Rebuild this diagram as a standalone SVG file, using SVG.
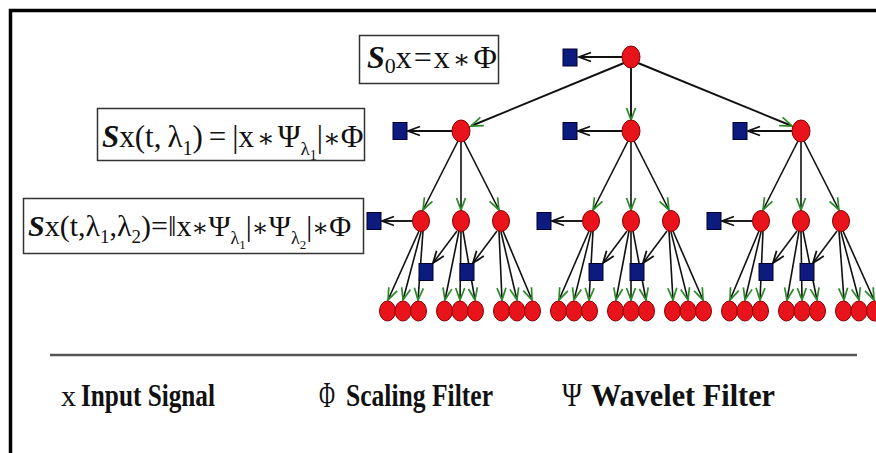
<svg xmlns="http://www.w3.org/2000/svg" width="876" height="453" viewBox="0 0 876 453">
<style>
.f{font-family:"Liberation Serif","DejaVu Serif",serif;fill:#111;}
.S{font-weight:bold;font-style:italic;}
.box{fill:#fff;stroke:#333;stroke-width:1.5;}
.e{stroke:#111;stroke-width:1.9;fill:none;}
.e2{stroke:#111;stroke-width:1.6;fill:none;}
.n{fill:#e8131b;stroke:#8b0000;stroke-width:1;}
.q{fill:#0c1b7d;stroke:#00002e;stroke-width:1;}
.lg{font-family:"Liberation Serif",serif;font-weight:bold;fill:#111;}
</style>
<defs>
<marker id="mg" markerUnits="userSpaceOnUse" markerWidth="14" markerHeight="11" refX="12" refY="5" orient="auto" overflow="visible">
<path d="M0,0.5 L12,5 L0,9.5 M4,2 L12,5 L4,8" fill="none" stroke="#2d8a2a" stroke-width="1.7"/>
</marker>
<marker id="mb" markerUnits="userSpaceOnUse" markerWidth="14" markerHeight="11" refX="12" refY="5" orient="auto" overflow="visible">
<path d="M0,0.5 L12,5 L0,9.5 M4,2 L12,5 L4,8" fill="none" stroke="#111" stroke-width="1.8"/>
</marker>
</defs>
<rect x="0" y="0" width="876" height="453" fill="#fff"/>
<rect x="10.5" y="10.5" width="900" height="500" fill="none" stroke="#000" stroke-width="3.5"/>
<line x1="50" y1="355" x2="857" y2="355" stroke="#555" stroke-width="2.5"/>

<g id="formula0">
<rect class="box" x="359.5" y="35.5" width="139" height="48"/>
<text class="f" font-size="32" x="367" y="68"><tspan class="S">S</tspan><tspan dy="5" font-size="22">0</tspan><tspan dy="-5">x</tspan><tspan dx="2">=</tspan><tspan dx="2">x</tspan><tspan dx="3" font-size="26">∗</tspan><tspan dx="3">Φ</tspan></text>
</g>
<g id="formula1">
<rect class="box" x="97.5" y="108.5" width="267" height="52"/>
<text class="f" font-size="31" x="102" y="147"><tspan class="S">S</tspan><tspan>x(t,</tspan><tspan dx="6">λ</tspan><tspan dy="8" font-size="20">1</tspan><tspan dy="-8">)</tspan><tspan dx="6">=</tspan><tspan dx="6">|x</tspan><tspan dx="3" font-size="26">∗</tspan><tspan dx="3">Ψ</tspan><tspan dy="8" font-size="19">λ</tspan><tspan dy="5" font-size="14">1</tspan><tspan dy="-13">|</tspan><tspan font-size="26">∗</tspan><tspan>Φ</tspan></text>
</g>
<g id="formula2">
<rect class="box" x="23.5" y="198.5" width="340" height="55"/>
<text class="f" font-size="30" x="28" y="236"><tspan class="S">S</tspan><tspan>x(t,λ</tspan><tspan dy="7" font-size="19">1</tspan><tspan dy="-7">,λ</tspan><tspan dy="7" font-size="19">2</tspan><tspan dy="-7">)=‖x</tspan><tspan font-size="25">∗</tspan><tspan>Ψ</tspan><tspan dy="8" font-size="18">λ</tspan><tspan dy="5" font-size="13">1</tspan><tspan dy="-13">|</tspan><tspan font-size="25">∗</tspan><tspan>Ψ</tspan><tspan dy="8" font-size="18">λ</tspan><tspan dy="5" font-size="13">2</tspan><tspan dy="-13">|</tspan><tspan font-size="25">∗</tspan><tspan>Φ</tspan></text>
</g>

<g id="connectors">
<line class="e" x1="622" y1="57" x2="579" y2="57" marker-end="url(#mb)"/>
<line class="e" x1="624" y1="63" x2="471" y2="126" marker-end="url(#mg)"/>
<line class="e" x1="631" y1="68" x2="631" y2="120" marker-end="url(#mg)"/>
<line class="e" x1="638" y1="63" x2="792" y2="126" marker-end="url(#mg)"/>

<line class="e" x1="452" y1="131" x2="408" y2="131" marker-end="url(#mb)"/>
<line class="e" x1="622" y1="131" x2="578" y2="131" marker-end="url(#mb)"/>
<line class="e" x1="792" y1="131" x2="748" y2="131" marker-end="url(#mb)"/>

<line class="e2" x1="458" y1="141" x2="423" y2="210" marker-end="url(#mg)"/>
<line class="e2" x1="461" y1="142" x2="461" y2="210" marker-end="url(#mg)"/>
<line class="e2" x1="464" y1="141" x2="499" y2="210" marker-end="url(#mg)"/>
<line class="e2" x1="628" y1="141" x2="593" y2="210" marker-end="url(#mg)"/>
<line class="e2" x1="631" y1="142" x2="631" y2="210" marker-end="url(#mg)"/>
<line class="e2" x1="634" y1="141" x2="669" y2="210" marker-end="url(#mg)"/>
<line class="e2" x1="798" y1="141" x2="763" y2="210" marker-end="url(#mg)"/>
<line class="e2" x1="801" y1="142" x2="801" y2="210" marker-end="url(#mg)"/>
<line class="e2" x1="804" y1="141" x2="839" y2="210" marker-end="url(#mg)"/>

<line class="e" x1="412" y1="221" x2="382" y2="221" marker-end="url(#mb)"/>
<line class="e" x1="582" y1="221" x2="552" y2="221" marker-end="url(#mb)"/>
<line class="e" x1="752" y1="221" x2="722" y2="221" marker-end="url(#mb)"/>

<line class="e2" x1="457" y1="231" x2="433" y2="263" marker-end="url(#mb)"/>
<line class="e2" x1="497" y1="231" x2="473" y2="263" marker-end="url(#mb)"/>
<line class="e2" x1="627" y1="231" x2="603" y2="263" marker-end="url(#mb)"/>
<line class="e2" x1="667" y1="231" x2="643" y2="263" marker-end="url(#mb)"/>
<line class="e2" x1="797" y1="231" x2="773" y2="263" marker-end="url(#mb)"/>
<line class="e2" x1="837" y1="231" x2="813" y2="263" marker-end="url(#mb)"/>

<g id="leafEdges">
<line class="e2" x1="419" y1="231" x2="388" y2="300" marker-end="url(#mg)"/>
<line class="e2" x1="421" y1="232" x2="403" y2="300" marker-end="url(#mg)"/>
<line class="e2" x1="423" y1="231" x2="418" y2="300" marker-end="url(#mg)"/>
<line class="e2" x1="459" y1="231" x2="445" y2="300" marker-end="url(#mg)"/>
<line class="e2" x1="461" y1="232" x2="460" y2="300" marker-end="url(#mg)"/>
<line class="e2" x1="463" y1="231" x2="475" y2="300" marker-end="url(#mg)"/>
<line class="e2" x1="499" y1="231" x2="502" y2="300" marker-end="url(#mg)"/>
<line class="e2" x1="501" y1="232" x2="517" y2="300" marker-end="url(#mg)"/>
<line class="e2" x1="503" y1="231" x2="532" y2="300" marker-end="url(#mg)"/>

<line class="e2" x1="589" y1="231" x2="559" y2="300" marker-end="url(#mg)"/>
<line class="e2" x1="591" y1="232" x2="574" y2="300" marker-end="url(#mg)"/>
<line class="e2" x1="593" y1="231" x2="589" y2="300" marker-end="url(#mg)"/>
<line class="e2" x1="629" y1="231" x2="616" y2="300" marker-end="url(#mg)"/>
<line class="e2" x1="631" y1="232" x2="631" y2="300" marker-end="url(#mg)"/>
<line class="e2" x1="633" y1="231" x2="646" y2="300" marker-end="url(#mg)"/>
<line class="e2" x1="669" y1="231" x2="673" y2="300" marker-end="url(#mg)"/>
<line class="e2" x1="671" y1="232" x2="688" y2="300" marker-end="url(#mg)"/>
<line class="e2" x1="673" y1="231" x2="703" y2="300" marker-end="url(#mg)"/>

<line class="e2" x1="759" y1="231" x2="730" y2="300" marker-end="url(#mg)"/>
<line class="e2" x1="761" y1="232" x2="745" y2="300" marker-end="url(#mg)"/>
<line class="e2" x1="763" y1="231" x2="760" y2="300" marker-end="url(#mg)"/>
<line class="e2" x1="799" y1="231" x2="787" y2="300" marker-end="url(#mg)"/>
<line class="e2" x1="801" y1="232" x2="802" y2="300" marker-end="url(#mg)"/>
<line class="e2" x1="803" y1="231" x2="817" y2="300" marker-end="url(#mg)"/>
<line class="e2" x1="839" y1="231" x2="844" y2="300" marker-end="url(#mg)"/>
<line class="e2" x1="841" y1="232" x2="859" y2="300" marker-end="url(#mg)"/>
<line class="e2" x1="843" y1="231" x2="874" y2="300" marker-end="url(#mg)"/>
</g>
</g>

<g id="n-root"><ellipse class="n" cx="631" cy="57" rx="9" ry="11"/></g>
<g id="q-root"><rect class="q" x="563" y="49" width="14" height="17"/></g>

<g id="n-1a"><ellipse class="n" cx="461" cy="131" rx="9" ry="11"/></g>
<g id="n-1b"><ellipse class="n" cx="631" cy="131" rx="9" ry="11"/></g>
<g id="n-1c"><ellipse class="n" cx="801" cy="131" rx="9" ry="11"/></g>
<g id="q-1a"><rect class="q" x="393" y="122.5" width="14" height="17"/></g>
<g id="q-1b"><rect class="q" x="563" y="122.5" width="14" height="17"/></g>
<g id="q-1c"><rect class="q" x="733" y="122.5" width="14" height="17"/></g>

<g id="level2">
<g id="n-2a1"><ellipse class="n" cx="421" cy="221" rx="8.5" ry="10.5"/></g>
<g id="n-2a2"><ellipse class="n" cx="461" cy="221" rx="8.5" ry="10.5"/></g>
<g id="n-2a3"><ellipse class="n" cx="501" cy="221" rx="8.5" ry="10.5"/></g>
<g id="n-2b1"><ellipse class="n" cx="591" cy="221" rx="8.5" ry="10.5"/></g>
<g id="n-2b2"><ellipse class="n" cx="631" cy="221" rx="8.5" ry="10.5"/></g>
<g id="n-2b3"><ellipse class="n" cx="671" cy="221" rx="8.5" ry="10.5"/></g>
<g id="n-2c1"><ellipse class="n" cx="761" cy="221" rx="8.5" ry="10.5"/></g>
<g id="n-2c2"><ellipse class="n" cx="801" cy="221" rx="8.5" ry="10.5"/></g>
<g id="n-2c3"><ellipse class="n" cx="841" cy="221" rx="8.5" ry="10.5"/></g>
<g id="q-2a"><rect class="q" x="367" y="212.5" width="14" height="17"/></g>
<g id="q-2b"><rect class="q" x="537" y="212.5" width="14" height="17"/></g>
<g id="q-2c"><rect class="q" x="707" y="212.5" width="14" height="17"/></g>
<g id="q-2a2"><rect class="q" x="419" y="263.5" width="14" height="17"/></g>
<g id="q-2a3"><rect class="q" x="460" y="263.5" width="14" height="17"/></g>
<g id="q-2b2"><rect class="q" x="589" y="263.5" width="14" height="17"/></g>
<g id="q-2b3"><rect class="q" x="630" y="263.5" width="14" height="17"/></g>
<g id="q-2c2"><rect class="q" x="759" y="263.5" width="14" height="17"/></g>
<g id="q-2c3"><rect class="q" x="800" y="263.5" width="14" height="17"/></g>
</g>

<g id="leaves">
<ellipse class="n" cx="387.5" cy="311" rx="8" ry="10"/><ellipse class="n" cx="403" cy="311" rx="8" ry="10"/><ellipse class="n" cx="418.5" cy="311" rx="8" ry="10"/>
<ellipse class="n" cx="444.5" cy="311" rx="8" ry="10"/><ellipse class="n" cx="460" cy="311" rx="8" ry="10"/><ellipse class="n" cx="475.5" cy="311" rx="8" ry="10"/>
<ellipse class="n" cx="501.5" cy="311" rx="8" ry="10"/><ellipse class="n" cx="517" cy="311" rx="8" ry="10"/><ellipse class="n" cx="532.5" cy="311" rx="8" ry="10"/>
<ellipse class="n" cx="558.5" cy="311" rx="8" ry="10"/><ellipse class="n" cx="574" cy="311" rx="8" ry="10"/><ellipse class="n" cx="589.5" cy="311" rx="8" ry="10"/>
<ellipse class="n" cx="615.5" cy="311" rx="8" ry="10"/><ellipse class="n" cx="631" cy="311" rx="8" ry="10"/><ellipse class="n" cx="646.5" cy="311" rx="8" ry="10"/>
<ellipse class="n" cx="672.5" cy="311" rx="8" ry="10"/><ellipse class="n" cx="688" cy="311" rx="8" ry="10"/><ellipse class="n" cx="703.5" cy="311" rx="8" ry="10"/>
<ellipse class="n" cx="729.5" cy="311" rx="8" ry="10"/><ellipse class="n" cx="745" cy="311" rx="8" ry="10"/><ellipse class="n" cx="760.5" cy="311" rx="8" ry="10"/>
<ellipse class="n" cx="786.5" cy="311" rx="8" ry="10"/><ellipse class="n" cx="802" cy="311" rx="8" ry="10"/><ellipse class="n" cx="817.5" cy="311" rx="8" ry="10"/>
<ellipse class="n" cx="843.5" cy="311" rx="8" ry="10"/><ellipse class="n" cx="859" cy="311" rx="8" ry="10"/><ellipse class="n" cx="874.5" cy="311" rx="8" ry="10"/>
</g>

<g id="legend">
<text class="f" x="61" y="406" font-size="30">x</text>
<text class="lg" x="81" y="406" font-size="32" textLength="134" lengthAdjust="spacingAndGlyphs">Input Signal</text>
<text class="f" x="319" y="407" font-size="35" textLength="16" lengthAdjust="spacingAndGlyphs">Φ</text>
<text class="lg" x="346" y="406" font-size="32" textLength="147" lengthAdjust="spacingAndGlyphs">Scaling Filter</text>
<text class="f" x="562" y="406" font-size="34" textLength="20" lengthAdjust="spacingAndGlyphs">Ψ</text>
<text class="lg" x="591" y="406" font-size="32" textLength="184" lengthAdjust="spacingAndGlyphs">Wavelet Filter</text>
</g>
</svg>
